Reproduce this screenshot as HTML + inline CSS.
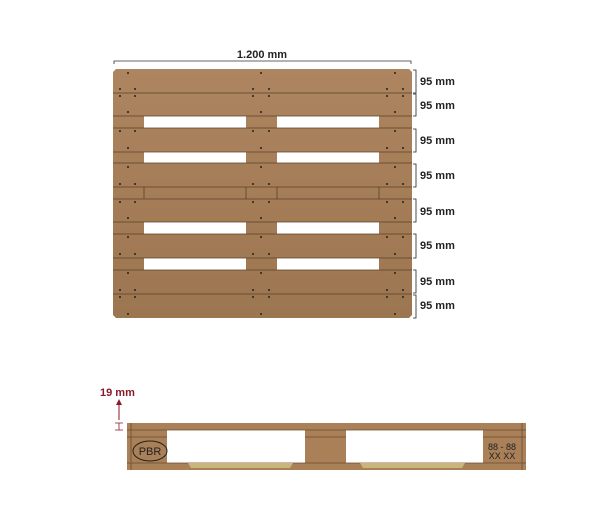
<!DOCTYPE html>
<html><head><style>body{margin:0;background:#fff}svg{display:block}</style></head><body>
<svg width="600" height="520" xmlns="http://www.w3.org/2000/svg" font-family="Liberation Sans, sans-serif">
<defs><linearGradient id="w" x1="0" y1="0" x2="0" y2="1"><stop offset="0" stop-color="#ad8560"/><stop offset="1" stop-color="#9c7650"/></linearGradient></defs>
<!-- top view -->
<path d="M116 69 H409 L412 72 V315 L409 318 H116 L113 315 V72 Z" fill="url(#w)"/>
<g fill="#fff">
<rect x="144" y="116" width="102" height="12"/><rect x="277" y="116" width="102" height="12"/>
<rect x="144" y="152" width="102" height="11"/><rect x="277" y="152" width="102" height="11"/>
<rect x="144" y="222" width="102" height="12"/><rect x="277" y="222" width="102" height="12"/>
<rect x="144" y="258" width="102" height="12"/><rect x="277" y="258" width="102" height="12"/>
</g>
<g stroke="#5a3f28" stroke-width="0.8">
<line x1="113" y1="93" x2="412" y2="93"/>
<line x1="113" y1="116" x2="412" y2="116"/><line x1="113" y1="128" x2="412" y2="128"/>
<line x1="113" y1="152" x2="412" y2="152"/><line x1="113" y1="163" x2="412" y2="163"/>
<line x1="113" y1="187" x2="412" y2="187"/><line x1="113" y1="199" x2="412" y2="199"/>
<line x1="113" y1="222" x2="412" y2="222"/><line x1="113" y1="234" x2="412" y2="234"/>
<line x1="113" y1="258" x2="412" y2="258"/><line x1="113" y1="270" x2="412" y2="270"/>
<line x1="113" y1="294" x2="412" y2="294"/>
<line x1="144" y1="187" x2="144" y2="199"/><line x1="246" y1="187" x2="246" y2="199"/>
<line x1="277" y1="187" x2="277" y2="199"/><line x1="379" y1="187" x2="379" y2="199"/>
</g>
<g fill="#222">
<circle cx="128" cy="73" r="1"/><circle cx="261" cy="73" r="1"/><circle cx="395" cy="73" r="1"/>
<circle cx="120" cy="89" r="1"/><circle cx="135" cy="89" r="1"/><circle cx="253" cy="89" r="1"/><circle cx="269" cy="89" r="1"/><circle cx="387" cy="89" r="1"/><circle cx="403" cy="89" r="1"/>
<circle cx="120" cy="96" r="1"/><circle cx="135" cy="96" r="1"/><circle cx="253" cy="96" r="1"/><circle cx="269" cy="96" r="1"/><circle cx="387" cy="96" r="1"/><circle cx="403" cy="96" r="1"/>
<circle cx="128" cy="112" r="1"/><circle cx="261" cy="112" r="1"/><circle cx="395" cy="112" r="1"/>
<circle cx="120" cy="131" r="1"/><circle cx="135" cy="131" r="1"/><circle cx="253" cy="131" r="1"/><circle cx="269" cy="131" r="1"/><circle cx="395" cy="131" r="1"/>
<circle cx="128" cy="148" r="1"/><circle cx="261" cy="148" r="1"/><circle cx="387" cy="148" r="1"/><circle cx="403" cy="148" r="1"/>
<circle cx="128" cy="167" r="1"/><circle cx="261" cy="167" r="1"/><circle cx="395" cy="167" r="1"/>
<circle cx="120" cy="184" r="1"/><circle cx="135" cy="184" r="1"/><circle cx="253" cy="184" r="1"/><circle cx="269" cy="184" r="1"/><circle cx="387" cy="184" r="1"/><circle cx="403" cy="184" r="1"/>
<circle cx="120" cy="202" r="1"/><circle cx="135" cy="202" r="1"/><circle cx="253" cy="202" r="1"/><circle cx="269" cy="202" r="1"/><circle cx="387" cy="202" r="1"/><circle cx="403" cy="202" r="1"/>
<circle cx="128" cy="218" r="1"/><circle cx="261" cy="218" r="1"/><circle cx="395" cy="218" r="1"/>
<circle cx="128" cy="237" r="1"/><circle cx="261" cy="237" r="1"/><circle cx="387" cy="237" r="1"/><circle cx="403" cy="237" r="1"/>
<circle cx="120" cy="254" r="1"/><circle cx="135" cy="254" r="1"/><circle cx="253" cy="254" r="1"/><circle cx="269" cy="254" r="1"/><circle cx="395" cy="254" r="1"/>
<circle cx="128" cy="273" r="1"/><circle cx="261" cy="273" r="1"/><circle cx="395" cy="273" r="1"/>
<circle cx="120" cy="290" r="1"/><circle cx="135" cy="290" r="1"/><circle cx="253" cy="290" r="1"/><circle cx="269" cy="290" r="1"/><circle cx="387" cy="290" r="1"/><circle cx="403" cy="290" r="1"/>
<circle cx="120" cy="297" r="1"/><circle cx="135" cy="297" r="1"/><circle cx="253" cy="297" r="1"/><circle cx="269" cy="297" r="1"/><circle cx="387" cy="297" r="1"/><circle cx="403" cy="297" r="1"/>
<circle cx="128" cy="314" r="1"/><circle cx="261" cy="314" r="1"/><circle cx="395" cy="314" r="1"/>
</g>
<!-- top dimension -->
<path d="M114 64 V61 H411 V64" fill="none" stroke="#333" stroke-width="0.8"/>
<text x="262" y="58" font-size="11" font-weight="bold" text-anchor="middle" fill="#222">1.200 mm</text>
<g fill="none" stroke="#222" stroke-width="0.8">
<path d="M413 70 H416 V93 H413"/><path d="M413 94 H416 V116 H413"/>
<path d="M413 129 H416 V152 H413"/><path d="M413 164 H416 V187 H413"/>
<path d="M413 199 H416 V222 H413"/><path d="M413 234 H416 V258 H413"/>
<path d="M413 270 H416 V293 H413"/><path d="M413 295 H416 V318 H413"/>
</g>
<g font-size="11" font-weight="bold" fill="#222">
<text x="420" y="85">95 mm</text><text x="420" y="109">95 mm</text>
<text x="420" y="144">95 mm</text><text x="420" y="179">95 mm</text>
<text x="420" y="215">95 mm</text><text x="420" y="249">95 mm</text>
<text x="420" y="285">95 mm</text><text x="420" y="309">95 mm</text>
</g>
<!-- side view -->
<rect x="127" y="423" width="399" height="47" fill="#a98058"/>
<rect x="167" y="430" width="138" height="33" fill="#fff"/>
<rect x="346" y="430" width="137" height="33" fill="#fff"/>
<g stroke="#6b4c30" stroke-width="0.8">
<line x1="127" y1="430" x2="526" y2="430"/><line x1="127" y1="463" x2="526" y2="463"/>
<line x1="127" y1="437" x2="167" y2="437"/><line x1="305" y1="437" x2="346" y2="437"/><line x1="483" y1="437" x2="526" y2="437"/>
<line x1="131" y1="423" x2="131" y2="470"/><line x1="522" y1="423" x2="522" y2="470"/>
</g>
<polygon points="188,463 293,463 290,468 191,468" fill="#c9b67a"/>
<polygon points="360,463 465,463 462,468 363,468" fill="#c9b67a"/>
<ellipse cx="150" cy="451" rx="17" ry="10" fill="none" stroke="#222" stroke-width="1"/>
<text x="150" y="455" font-size="11" text-anchor="middle" fill="#222">PBR</text>
<text x="502" y="450" font-size="9" text-anchor="middle" fill="#222">88 - 88</text>
<text x="502" y="459" font-size="9" text-anchor="middle" fill="#222">XX  XX</text>
<text x="100" y="396" font-size="11" font-weight="bold" fill="#8b1a2a">19 mm</text>
<line x1="119" y1="420" x2="119" y2="404" stroke="#8b1a2a" stroke-width="1"/>
<polygon points="116,405 122,405 119,399" fill="#8b1a2a"/>
<path d="M115 423 H123 M119 423 V430 M115 430 H123" stroke="#8b1a2a" stroke-width="0.8" fill="none"/>
</svg>
</body></html>
